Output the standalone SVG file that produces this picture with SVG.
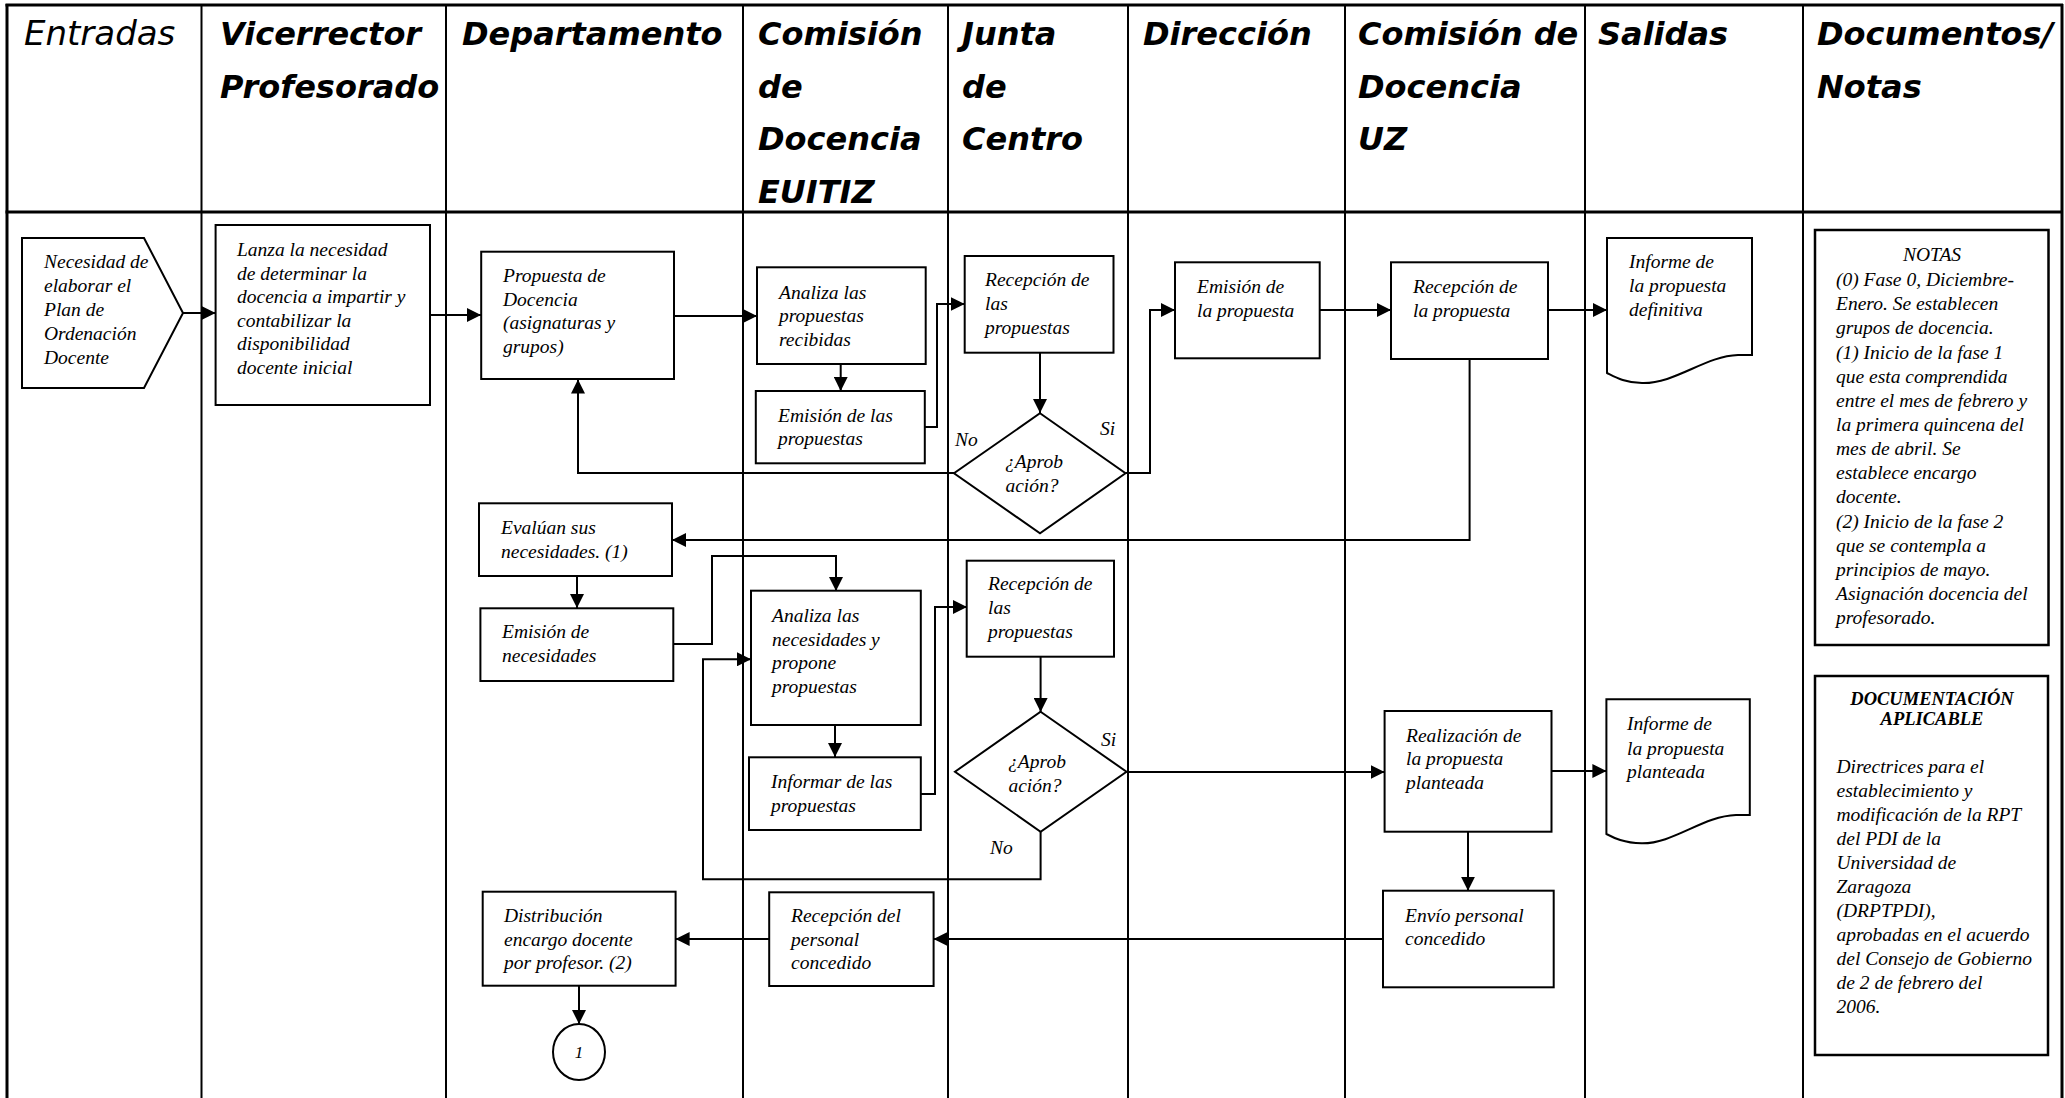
<svg xmlns="http://www.w3.org/2000/svg" width="2065" height="1098" viewBox="0 0 2065 1098">
<style>
.bg{fill:#ffffff}
.lane{stroke:#000;stroke-width:2;fill:none}
.border{stroke:#000;stroke-width:3;fill:none}
.hd{font-family:"DejaVu Sans",sans-serif;font-weight:bold;font-style:oblique;font-size:32px;fill:#000}
.hdr{font-family:"DejaVu Sans",sans-serif;font-style:oblique;font-size:34px;fill:#000}
.box{fill:#fff;stroke:#000;stroke-width:2}
.nbox{fill:#fff;stroke:#000;stroke-width:2.5}
.t{font-family:"Liberation Serif","Times New Roman",serif;font-style:italic;font-size:19.5px;fill:#000}
.tc{font-family:"Liberation Serif","Times New Roman",serif;font-style:italic;font-size:19.5px;fill:#000;text-anchor:middle}
.tb{font-family:"Liberation Serif","Times New Roman",serif;font-style:italic;font-weight:bold;font-size:18.5px;fill:#000;text-anchor:middle}
.c{fill:none;stroke:#000;stroke-width:2;marker-end:url(#arr)}
.cn{fill:none;stroke:#000;stroke-width:2}
</style>
<defs>
<marker id="arr" markerUnits="userSpaceOnUse" markerWidth="14" markerHeight="14" viewBox="0 0 14 14" refX="14" refY="7" orient="auto">
<path d="M0,0 L14,7 L0,14 Z" fill="#000"/>
</marker>
</defs>
<rect class="bg" x="0" y="0" width="2065" height="1098"/>

<g id="lanes">
<line class="border" x1="5.5" y1="5" x2="2063" y2="5"/>
<line class="border" x1="5.5" y1="212" x2="2063" y2="212"/>
<line class="border" x1="7" y1="4" x2="7" y2="1098"/>
<line class="border" x1="2062" y1="4" x2="2062" y2="1098"/>
<line class="lane" x1="201.5" y1="5" x2="201.5" y2="1098"/>
<line class="lane" x1="446" y1="5" x2="446" y2="1098"/>
<line class="lane" x1="743" y1="5" x2="743" y2="1098"/>
<line class="lane" x1="948" y1="5" x2="948" y2="1098"/>
<line class="lane" x1="1128" y1="5" x2="1128" y2="1098"/>
<line class="lane" x1="1345" y1="5" x2="1345" y2="1098"/>
<line class="lane" x1="1585" y1="5" x2="1585" y2="1098"/>
<line class="lane" x1="1803" y1="5" x2="1803" y2="1098"/>
<text class="hdr" x="24" y="45">Entradas</text>
<text class="hd" x="220" y="45">Vicerrector</text>
<text class="hd" x="220" y="97.5">Profesorado</text>
<text class="hd" x="462" y="45">Departamento</text>
<text class="hd" x="758" y="45">Comisión</text>
<text class="hd" x="758" y="97.5">de</text>
<text class="hd" x="758" y="150">Docencia</text>
<text class="hd" x="758" y="203">EUITIZ</text>
<text class="hd" x="962" y="45">Junta</text>
<text class="hd" x="962" y="97.5">de</text>
<text class="hd" x="962" y="150">Centro</text>
<text class="hd" x="1143" y="45">Dirección</text>
<text class="hd" x="1358" y="45">Comisión de</text>
<text class="hd" x="1358" y="97.5">Docencia</text>
<text class="hd" x="1358" y="150">UZ</text>
<text class="hd" x="1598" y="45">Salidas</text>
<text class="hd" x="1817" y="45">Documentos/</text>
<text class="hd" x="1817" y="97.5">Notas</text>
</g>

<g id="connectors">
<path class="c" d="M183,313 H215.6"/>
<path class="c" d="M430,315 H481"/>
<path class="c" d="M674,316 H757"/>
<path class="c" d="M840.7,364 V391"/>
<path class="c" d="M925,427 H937 V304 H964.7"/>
<path class="c" d="M1040,353 V413"/>
<path class="c" d="M954,473 H578 V379.5"/>
<path class="c" d="M1125.5,473 H1150 V310 H1175"/>
<path class="c" d="M1320,310 H1391"/>
<path class="c" d="M1548,310 H1607"/>
<path class="c" d="M1469.6,359 V540 H672"/>
<path class="c" d="M577,576 V608"/>
<path class="c" d="M673,644 H712 V556 H836 V591"/>
<path class="c" d="M835,725 V757"/>
<path class="c" d="M921,794 H935 V607 H967"/>
<path class="c" d="M1040.6,657 V712"/>
<path class="c" d="M1040.6,832 V879.3 H703 V659.3 H751"/>
<path class="c" d="M1126.5,772 H1384.6"/>
<path class="c" d="M1551.5,771 H1606.4"/>
<path class="c" d="M1468,832 V890.7"/>
<path class="c" d="M1383,939 H933.6"/>
<path class="c" d="M769,939 H675.6"/>
<path class="c" d="M579,986 V1024"/>
<text class="t" x="955" y="446">No</text>
<text class="t" x="1100" y="435">Si</text>
<text class="t" x="1101" y="746">Si</text>
<text class="t" x="990" y="854">No</text>
</g>

<g id="n-necesidad">
<path class="box" d="M22,238 H144 L183,313 L144,388 H22 Z"/>
<text class="t" x="44" y="268">Necesidad de</text>
<text class="t" x="44" y="292">elaborar el</text>
<text class="t" x="44" y="316">Plan de</text>
<text class="t" x="44" y="340">Ordenación</text>
<text class="t" x="44" y="364">Docente</text>
</g>

<g id="n-lanza">
<rect class="box" x="215.6" y="225" width="214.4" height="180"/>
<text class="t" x="237" y="256">Lanza la necesidad</text>
<text class="t" x="237" y="279.5">de determinar la</text>
<text class="t" x="237" y="303">docencia a impartir y</text>
<text class="t" x="237" y="326.5">contabilizar la</text>
<text class="t" x="237" y="350">disponibilidad</text>
<text class="t" x="237" y="373.5">docente inicial</text>
</g>

<g id="n-propuesta">
<rect class="box" x="481.2" y="251.7" width="192.8" height="127.3"/>
<text class="t" x="503" y="282">Propuesta de</text>
<text class="t" x="503" y="305.5">Docencia</text>
<text class="t" x="503" y="329">(asignaturas y</text>
<text class="t" x="503" y="352.5">grupos)</text>
</g>

<g id="n-analiza1">
<rect class="box" x="757" y="267.3" width="168.7" height="96.7"/>
<text class="t" x="779" y="298.5">Analiza las</text>
<text class="t" x="779" y="322">propuestas</text>
<text class="t" x="779" y="345.5">recibidas</text>
</g>

<g id="n-emision1">
<rect class="box" x="755.8" y="391" width="169" height="72.3"/>
<text class="t" x="778" y="421.5">Emisión de las</text>
<text class="t" x="778" y="445">propuestas</text>
</g>

<g id="n-recepcion1">
<rect class="box" x="964.7" y="256" width="148.8" height="96.7"/>
<text class="t" x="985" y="286">Recepción de</text>
<text class="t" x="985" y="310">las</text>
<text class="t" x="985" y="334">propuestas</text>
</g>

<g id="n-aprob1">
<path class="box" d="M1040,413.3 L1125.5,473.3 L1040,533.3 L954,473.3 Z"/>
<text class="tc" x="1034" y="468">¿Aprob</text>
<text class="tc" x="1032" y="492">ación?</text>
</g>

<g id="n-emision-propuesta">
<rect class="box" x="1175" y="262.3" width="144.7" height="96"/>
<text class="t" x="1197" y="293">Emisión de</text>
<text class="t" x="1197" y="317">la propuesta</text>
</g>

<g id="n-recepcion-propuesta">
<rect class="box" x="1391" y="262.3" width="157" height="96.7"/>
<text class="t" x="1413" y="293">Recepción de</text>
<text class="t" x="1413" y="317">la propuesta</text>
</g>

<g id="n-informe-definitiva">
<path class="box" d="M1607,238 H1752 V355 H1738 C1705,356 1675,384 1642,383 C1625,383 1615,377 1607,373 Z"/>
<text class="t" x="1629" y="268">Informe de</text>
<text class="t" x="1629" y="292">la propuesta</text>
<text class="t" x="1629" y="315.5">definitiva</text>
</g>

<g id="n-notas">
<rect class="nbox" x="1815" y="230" width="233.5" height="415"/>
<text class="tc" x="1932" y="261">NOTAS</text>
<text class="t" x="1836" y="286">(0) Fase 0, Diciembre-</text>
<text class="t" x="1836" y="310.2">Enero. Se establecen</text>
<text class="t" x="1836" y="334.3">grupos de docencia.</text>
<text class="t" x="1836" y="358.5">(1) Inicio de la fase 1</text>
<text class="t" x="1836" y="382.6">que esta comprendida</text>
<text class="t" x="1836" y="406.8">entre el mes de febrero y</text>
<text class="t" x="1836" y="430.9">la primera quincena del</text>
<text class="t" x="1836" y="455.1">mes de abril. Se</text>
<text class="t" x="1836" y="479.2">establece encargo</text>
<text class="t" x="1836" y="503.4">docente.</text>
<text class="t" x="1836" y="527.5">(2) Inicio de la fase 2</text>
<text class="t" x="1836" y="551.7">que se contempla a</text>
<text class="t" x="1836" y="575.8">principios de mayo.</text>
<text class="t" x="1836" y="600">Asignación docencia del</text>
<text class="t" x="1836" y="624.1">profesorado.</text>
</g>

<g id="n-evaluan">
<rect class="box" x="479" y="503.3" width="193" height="72.7"/>
<text class="t" x="501" y="534">Evalúan sus</text>
<text class="t" x="501" y="558">necesidades. (1)</text>
</g>

<g id="n-emision-necesidades">
<rect class="box" x="480.4" y="608.3" width="192.9" height="72.7"/>
<text class="t" x="502" y="638">Emisión de</text>
<text class="t" x="502" y="662">necesidades</text>
</g>

<g id="n-analiza2">
<rect class="box" x="751" y="590.7" width="169.8" height="134.3"/>
<text class="t" x="772" y="621.5">Analiza las</text>
<text class="t" x="772" y="645.5">necesidades y</text>
<text class="t" x="772" y="669">propone</text>
<text class="t" x="772" y="693">propuestas</text>
</g>

<g id="n-informar">
<rect class="box" x="749" y="757.3" width="171.8" height="72.7"/>
<text class="t" x="771" y="788">Informar de las</text>
<text class="t" x="771" y="811.5">propuestas</text>
</g>

<g id="n-recepcion2">
<rect class="box" x="966.7" y="560.7" width="147.3" height="96"/>
<text class="t" x="988" y="590">Recepción de</text>
<text class="t" x="988" y="614">las</text>
<text class="t" x="988" y="638">propuestas</text>
</g>

<g id="n-aprob2">
<path class="box" d="M1040.6,711.7 L1126.5,771.7 L1040.6,831.7 L955,771.7 Z"/>
<text class="tc" x="1037" y="768">¿Aprob</text>
<text class="tc" x="1035" y="791.5">ación?</text>
</g>

<g id="n-realizacion">
<rect class="box" x="1384.6" y="711" width="166.9" height="120.7"/>
<text class="t" x="1406" y="741.5">Realización de</text>
<text class="t" x="1406" y="765">la propuesta</text>
<text class="t" x="1406" y="788.5">planteada</text>
</g>

<g id="n-informe-planteada">
<path class="box" d="M1606.4,699.3 H1749.8 V815 H1736 C1703,816 1673,844 1641.5,843.3 C1624,843 1614,838 1606.4,834 Z"/>
<text class="t" x="1627" y="730">Informe de</text>
<text class="t" x="1627" y="754.5">la propuesta</text>
<text class="t" x="1627" y="778">planteada</text>
</g>

<g id="n-documentacion">
<rect class="nbox" x="1815" y="676" width="233" height="379"/>
<text class="tb" x="1932" y="705">DOCUMENTACIÓN</text>
<text class="tb" x="1932" y="725">APLICABLE</text>
<text class="t" x="1836.5" y="772.5">Directrices para el</text>
<text class="t" x="1836.5" y="796.5">establecimiento y</text>
<text class="t" x="1836.5" y="820.5">modificación de la RPT</text>
<text class="t" x="1836.5" y="844.5">del PDI de la</text>
<text class="t" x="1836.5" y="868.5">Universidad de</text>
<text class="t" x="1836.5" y="892.5">Zaragoza</text>
<text class="t" x="1836.5" y="916.5">(DRPTPDI),</text>
<text class="t" x="1836.5" y="940.5">aprobadas en el acuerdo</text>
<text class="t" x="1836.5" y="964.5">del Consejo de Gobierno</text>
<text class="t" x="1836.5" y="988.5">de 2 de febrero del</text>
<text class="t" x="1836.5" y="1012.5">2006.</text>
</g>

<g id="n-envio">
<rect class="box" x="1383" y="890.7" width="170.7" height="96.6"/>
<text class="t" x="1405" y="921.5">Envío personal</text>
<text class="t" x="1405" y="945">concedido</text>
</g>

<g id="n-recepcion-personal">
<rect class="box" x="769.2" y="892.3" width="164.4" height="93.7"/>
<text class="t" x="791" y="921.5">Recepción del</text>
<text class="t" x="791" y="945.5">personal</text>
<text class="t" x="791" y="969">concedido</text>
</g>

<g id="n-distribucion">
<rect class="box" x="482.7" y="891.7" width="192.9" height="94"/>
<text class="t" x="504" y="921.5">Distribución</text>
<text class="t" x="504" y="945.5">encargo docente</text>
<text class="t" x="504" y="969">por profesor. (2)</text>
</g>

<g id="n-conector1">
<ellipse class="box" cx="579" cy="1052" rx="26" ry="28"/>
<text class="tc" x="579" y="1058" style="font-size:17px">1</text>
</g>
</svg>
